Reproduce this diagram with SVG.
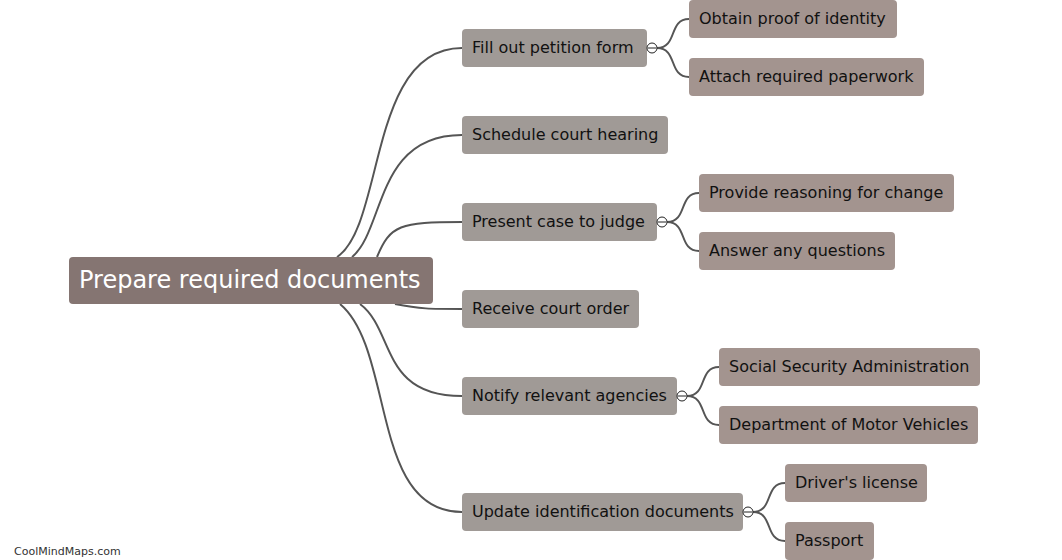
<svg xmlns="http://www.w3.org/2000/svg" width="1062" height="560" viewBox="0 0 1062 560">
<style>
.l1 rect{fill:#a09a96}
.l2 rect{fill:#a3948f}
.t{font-family:"DejaVu Sans",Verdana,sans-serif;font-size:16px;fill:#111111}
.rt{font-family:"DejaVu Sans",Verdana,sans-serif;font-size:24px;fill:#ffffff}
.c path{fill:none;stroke:#555555;stroke-width:2}
.tg circle{fill:#ffffff;stroke:#222222;stroke-width:1}
.tg line{stroke:#222222;stroke-width:1}
.ft{font-family:"DejaVu Sans",Verdana,sans-serif;font-size:11px;fill:#333333}
</style>
<rect width="1062" height="560" fill="#ffffff"/>
<g class="c" id="connectors">
<path d="M337,257 C385,225 368,48 462,48"/>
<path d="M352,257 C385,230 375,135 462,135"/>
<path d="M377,257 C390,225 400,222 462,222"/>
<path d="M395,304 C420,309 430,309 462,309"/>
<path d="M360,304 C395,330 380,396 462,396"/>
<path d="M340,304 C395,350 370,512 462,512"/>
<path d="M657,48 C678,48 668,19 689,19"/>
<path d="M657,48 C678,48 668,77 689,77"/>
<path d="M667,222 C688,222 678,193 699,193"/>
<path d="M667,222 C688,222 678,251 699,251"/>
<path d="M687,396 C708,396 698,367 719,367"/>
<path d="M687,396 C708,396 698,425 719,425"/>
<path d="M753,512 C774,512 764,483 785,483"/>
<path d="M753,512 C774,512 764,541 785,541"/>
</g>
<g id="root">
<rect x="69" y="257" width="364" height="47" rx="4" fill="#857572"/>
<text class="rt" x="79" y="288">Prepare required documents</text>
</g>
<g id="n1" class="l1"><rect x="462" y="29" width="185" height="38" rx="4"/><text class="t" x="472" y="53">Fill out petition form</text></g>
<g id="n2" class="l1"><rect x="462" y="116" width="206" height="38" rx="4"/><text class="t" x="472" y="140">Schedule court hearing</text></g>
<g id="n3" class="l1"><rect x="462" y="203" width="195" height="38" rx="4"/><text class="t" x="472" y="227">Present case to judge</text></g>
<g id="n4" class="l1"><rect x="462" y="290" width="177" height="38" rx="4"/><text class="t" x="472" y="314">Receive court order</text></g>
<g id="n5" class="l1"><rect x="462" y="377" width="215" height="38" rx="4"/><text class="t" x="472" y="401">Notify relevant agencies</text></g>
<g id="n6" class="l1"><rect x="462" y="493" width="281" height="38" rx="4"/><text class="t" x="472" y="517">Update identification documents</text></g>
<g id="n1a" class="l2"><rect x="689" y="0" width="208" height="38" rx="4"/><text class="t" x="699" y="24">Obtain proof of identity</text></g>
<g id="n1b" class="l2"><rect x="689" y="58" width="235" height="38" rx="4"/><text class="t" x="699" y="82">Attach required paperwork</text></g>
<g id="n3a" class="l2"><rect x="699" y="174" width="255" height="38" rx="4"/><text class="t" x="709" y="198">Provide reasoning for change</text></g>
<g id="n3b" class="l2"><rect x="699" y="232" width="196" height="38" rx="4"/><text class="t" x="709" y="256">Answer any questions</text></g>
<g id="n5a" class="l2"><rect x="719" y="348" width="261" height="38" rx="4"/><text class="t" x="729" y="372">Social Security Administration</text></g>
<g id="n5b" class="l2"><rect x="719" y="406" width="259" height="38" rx="4"/><text class="t" x="729" y="430">Department of Motor Vehicles</text></g>
<g id="n6a" class="l2"><rect x="785" y="464" width="142" height="38" rx="4"/><text class="t" x="795" y="488">Driver's license</text></g>
<g id="n6b" class="l2"><rect x="785" y="522" width="89" height="38" rx="4"/><text class="t" x="795" y="546">Passport</text></g>
<g class="tg" id="toggles">
<circle cx="652" cy="48" r="5"/><line x1="648" y1="48" x2="656" y2="48"/>
<circle cx="662" cy="222" r="5"/><line x1="658" y1="222" x2="666" y2="222"/>
<circle cx="682" cy="396" r="5"/><line x1="678" y1="396" x2="686" y2="396"/>
<circle cx="748" cy="512" r="5"/><line x1="744" y1="512" x2="752" y2="512"/>
</g>
<text class="ft" x="14" y="555">CoolMindMaps.com</text>
</svg>
